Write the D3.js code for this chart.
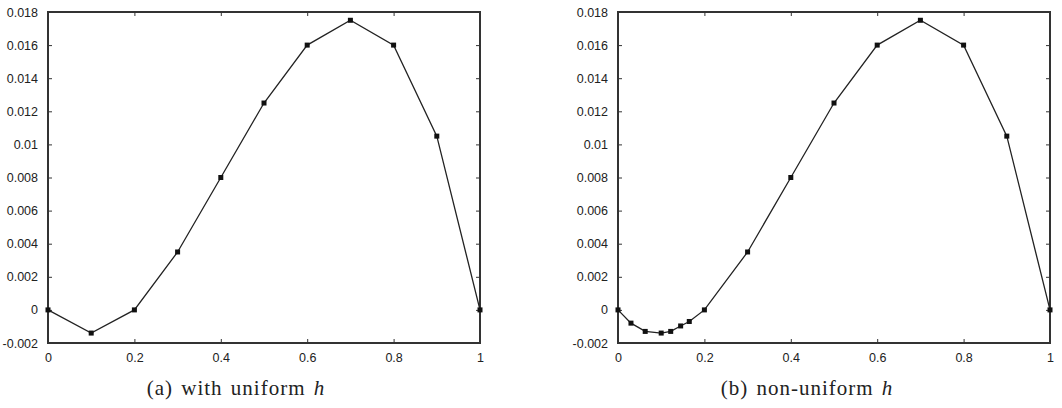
<!DOCTYPE html>
<html>
<head>
<meta charset="utf-8">
<script src="https://cdn.jsdelivr.net/npm/d3@7"></script>
<style>
  body { margin: 0; background: #fff; }
  svg { display: block; }
  .tick text { font-family: "Liberation Sans", Arial, sans-serif; font-size: 12.5px; fill: #222; }
  .caption { font-family: "Liberation Serif", "DejaVu Serif", serif; font-size: 21px; letter-spacing: 1px; word-spacing: 2px; fill: #222; }
</style>
</head>
<body>
<svg id="chart" width="1062" height="408"></svg>
<script>
// uniform grid (a)
const uniformX = [0, 0.1, 0.2, 0.3, 0.4, 0.5, 0.6, 0.7, 0.8, 0.9, 1]
const uniformY = [0, -0.0014, 0, 0.0035, 0.008, 0.0125, 0.016, 0.0175, 0.016, 0.0105, 0]

// non-uniform grid (b), refined near 0
const nonUniformX = [0, 0.03, 0.063, 0.1, 0.122, 0.145, 0.165, 0.2, 0.3, 0.4, 0.5, 0.6, 0.7, 0.8, 0.9, 1]
const nonUniformY = [0, -0.0008, -0.0013, -0.0014, -0.0013, -0.00097, -0.0007, 0, 0.0035, 0.008, 0.0125, 0.016, 0.0175, 0.016, 0.0105, 0]

const xTicks = [0, 0.2, 0.4, 0.6, 0.8, 1]
const yTicks = [-0.002, 0, 0.002, 0.004, 0.006, 0.008, 0.01, 0.012, 0.014, 0.016, 0.018]
const captions = ["(a) with uniform ", "(b) non-uniform "]

const svg = d3.select("#chart")

const panels = [
  {xs: uniformX, ys: uniformY, left: 48, right: 480, cx: 236, caption: captions[0]},
  {xs: nonUniformX, ys: nonUniformY, left: 618, right: 1050, cx: 807, caption: captions[1]}
]
const plotTop = 12, plotBottom = 343

panels.forEach(p => {
  const x = d3.scaleLinear().domain([0, 1]).range([p.left, p.right])
  const y = d3.scaleLinear().domain([-0.002, 0.018]).range([plotBottom, plotTop])
  const data = p.xs.map((v, i) => ({x: v, y: p.ys[i]}))
  const g = svg.append("g")

  const fmt = d => String(+d.toFixed(3))

  // axes with inward ticks, mirrored on top/right
  const ax = (axis, tr) => {
    const a = g.append("g").attr("transform", tr).call(axis)
    a.select(".domain").remove()
    a.selectAll(".tick line").attr("stroke", "#333").attr("stroke-width", 1)
    return a
  }
  ax(d3.axisBottom(x).tickValues(xTicks).tickSizeInner(-4).tickSizeOuter(0).tickPadding(10).tickFormat(fmt), `translate(0,${plotBottom})`)
  ax(d3.axisTop(x).tickValues(xTicks).tickSizeInner(-4).tickSizeOuter(0).tickFormat(""), `translate(0,${plotTop})`)
  ax(d3.axisLeft(y).tickValues(yTicks).tickSizeInner(-4).tickSizeOuter(0).tickPadding(10).tickFormat(fmt), `translate(${p.left},0)`)
  ax(d3.axisRight(y).tickValues(yTicks).tickSizeInner(-4).tickSizeOuter(0).tickFormat(""), `translate(${p.right},0)`)

  g.append("rect")
    .attr("x", p.left).attr("y", plotTop)
    .attr("width", p.right - p.left).attr("height", plotBottom - plotTop)
    .attr("fill", "none").attr("stroke", "#333").attr("stroke-width", 2)

  g.append("path")
    .datum(data)
    .attr("fill", "none")
    .attr("stroke", "#222")
    .attr("stroke-width", 1.3)
    .attr("d", d3.line().x(d => x(d.x)).y(d => y(d.y)))

  g.selectAll("rect.pt").data(data).enter().append("rect")
    .attr("class", "pt")
    .attr("x", d => x(d.x) - 2.5).attr("y", d => y(d.y) - 2.5)
    .attr("width", 5).attr("height", 5)
    .attr("fill", "#111")

  const cap = g.append("text").attr("class", "caption")
    .attr("x", p.cx).attr("y", 395).attr("text-anchor", "middle")
  cap.append("tspan").text(p.caption)
  cap.append("tspan").attr("font-style", "italic").text("h")
})
</script>
</body>
</html>
